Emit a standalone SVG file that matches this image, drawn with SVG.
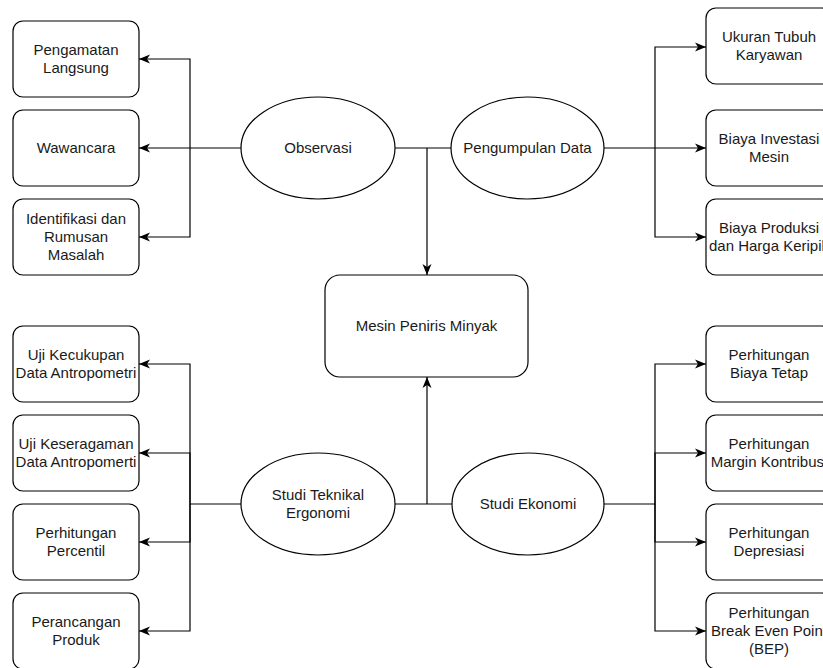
<svg xmlns="http://www.w3.org/2000/svg" width="823" height="668" viewBox="0 0 823 668">
<style>
.box{fill:#fff;stroke:#000;stroke-width:1.2}
.t{font-family:"Liberation Sans",Arial,Helvetica,sans-serif;font-size:15px;fill:#1a1a1a;text-anchor:middle}
.c{fill:none;stroke:#000;stroke-width:1.2}
</style>
<defs>
<marker id="arr" markerUnits="userSpaceOnUse" markerWidth="12" markerHeight="10" refX="11" refY="5" orient="auto">
<path d="M0,0.5 L11,5 L0,9.5 L3,5 Z" fill="#000"/>
</marker>
</defs>
<rect width="823" height="668" fill="#fff"/>
<g id="connectors">
<path class="c" d="M241,148 H139" marker-end="url(#arr)"/>
<path class="c" d="M190,148 V59 H139" marker-end="url(#arr)"/>
<path class="c" d="M190,148 V237 H139" marker-end="url(#arr)"/>
<path class="c" d="M604,148 H706" marker-end="url(#arr)"/>
<path class="c" d="M655,148 V47 H706" marker-end="url(#arr)"/>
<path class="c" d="M655,148 V237 H706" marker-end="url(#arr)"/>
<path class="c" d="M395,148 H451"/>
<path class="c" d="M427,148 V275" marker-end="url(#arr)"/>
<path class="c" d="M395,504 H452"/>
<path class="c" d="M427,504 V377" marker-end="url(#arr)"/>
<path class="c" d="M241,504 H190 V364 H139" marker-end="url(#arr)"/>
<path class="c" d="M190,504 V453 H139" marker-end="url(#arr)"/>
<path class="c" d="M190,504 V542 H139" marker-end="url(#arr)"/>
<path class="c" d="M190,504 V631 H139" marker-end="url(#arr)"/>
<path class="c" d="M604,504 H655 V364 H706" marker-end="url(#arr)"/>
<path class="c" d="M655,504 V453 H706" marker-end="url(#arr)"/>
<path class="c" d="M655,504 V542 H706" marker-end="url(#arr)"/>
<path class="c" d="M655,504 V631 H706" marker-end="url(#arr)"/>
</g>
<g id="mesin"><rect class="box" x="325" y="275" width="203" height="102" rx="15"/><text class="t" x="426.5" y="331">Mesin Peniris Minyak</text></g>
<g id="observasi"><ellipse class="box" cx="318" cy="148" rx="77" ry="51"/><text class="t" x="318" y="153">Observasi</text></g>
<g id="pengumpulan"><ellipse class="box" cx="527.5" cy="148" rx="76.5" ry="51"/><text class="t" x="527.5" y="153">Pengumpulan Data</text></g>
<g id="teknikal"><ellipse class="box" cx="318" cy="504" rx="77" ry="51"/><text class="t" x="318" y="500">Studi Teknikal</text><text class="t" x="318" y="518">Ergonomi</text></g>
<g id="ekonomi"><ellipse class="box" cx="528" cy="504" rx="76" ry="51"/><text class="t" x="528" y="509">Studi Ekonomi</text></g>
<g id="pengamatan"><rect class="box" x="13" y="21" width="126" height="76" rx="10"/><text class="t" x="76" y="55">Pengamatan</text><text class="t" x="76" y="73">Langsung</text></g>
<g id="wawancara"><rect class="box" x="13" y="110" width="126" height="76" rx="10"/><text class="t" x="76" y="153">Wawancara</text></g>
<g id="identifikasi"><rect class="box" x="13" y="199" width="126" height="76" rx="10"/><text class="t" x="76" y="224">Identifikasi dan</text><text class="t" x="76" y="242">Rumusan</text><text class="t" x="76" y="260">Masalah</text></g>
<g id="ukuran"><rect class="box" x="706" y="8" width="126" height="76" rx="10"/><text class="t" x="769" y="42">Ukuran Tubuh</text><text class="t" x="769" y="60">Karyawan</text></g>
<g id="investasi"><rect class="box" x="706" y="110" width="126" height="76" rx="10"/><text class="t" x="769" y="144">Biaya Investasi</text><text class="t" x="769" y="162">Mesin</text></g>
<g id="produksi"><rect class="box" x="706" y="199" width="126" height="76" rx="10"/><text class="t" x="769" y="233">Biaya Produksi</text><text class="t" x="769" y="251">dan Harga Keripik</text></g>
<g id="kecukupan"><rect class="box" x="13" y="326" width="126" height="76" rx="10"/><text class="t" x="76" y="360">Uji Kecukupan</text><text class="t" x="76" y="378">Data Antropometri</text></g>
<g id="keseragaman"><rect class="box" x="13" y="415" width="126" height="76" rx="10"/><text class="t" x="76" y="449">Uji Keseragaman</text><text class="t" x="76" y="467">Data Antropomerti</text></g>
<g id="percentil"><rect class="box" x="13" y="504" width="126" height="76" rx="10"/><text class="t" x="76" y="538">Perhitungan</text><text class="t" x="76" y="556">Percentil</text></g>
<g id="perancangan"><rect class="box" x="13" y="593" width="126" height="76" rx="10"/><text class="t" x="76" y="627">Perancangan</text><text class="t" x="76" y="645">Produk</text></g>
<g id="tetap"><rect class="box" x="706" y="326" width="126" height="76" rx="10"/><text class="t" x="769" y="360">Perhitungan</text><text class="t" x="769" y="378">Biaya Tetap</text></g>
<g id="margin"><rect class="box" x="706" y="415" width="126" height="76" rx="10"/><text class="t" x="769" y="449">Perhitungan</text><text class="t" x="769" y="467">Margin Kontribusi</text></g>
<g id="depresiasi"><rect class="box" x="706" y="504" width="126" height="76" rx="10"/><text class="t" x="769" y="538">Perhitungan</text><text class="t" x="769" y="556">Depresiasi</text></g>
<g id="bep"><rect class="box" x="706" y="593" width="126" height="76" rx="10"/><text class="t" x="769" y="618">Perhitungan</text><text class="t" x="769" y="636">Break Even Point</text><text class="t" x="769" y="654">(BEP)</text></g>
</svg>
